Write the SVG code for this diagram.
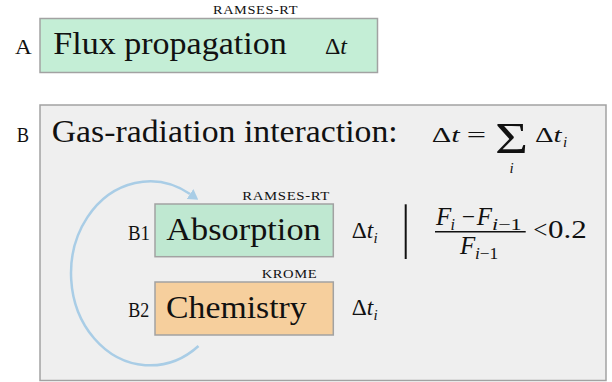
<svg xmlns="http://www.w3.org/2000/svg" width="612" height="382" viewBox="0 0 612 382" font-family="'Liberation Serif', 'DejaVu Serif', serif">
<defs>
<style>
text{font-family:'Liberation Serif','DejaVu Serif',serif;fill:#111}
.big{font-size:31px}
.lbl{font-size:20px}
.sc{font-size:12px;letter-spacing:0.5px}
.it{font-style:italic}
.box{stroke:#a2a2a2;stroke-width:1.5}
.m{font-size:24px}
.sub{font-size:15px}
</style>
<marker id="ah" viewBox="0 0 10 12" refX="0" refY="6" markerWidth="10" markerHeight="12" markerUnits="userSpaceOnUse" orient="auto">
<path d="M0,0 L10,6 L0,12 z" fill="#a9cde6"/>
</marker>
</defs>

<g id="nodeA">
<text class="sc" x="213" y="13.5" textLength="85" lengthAdjust="spacingAndGlyphs">RAMSES-RT</text>
<text class="lbl" x="15" y="54" textLength="16.7" lengthAdjust="spacingAndGlyphs">A</text>
<rect class="box" x="40" y="18.5" width="337.5" height="54" fill="#c4eed6"/>
<text class="big" x="53.3" y="54.3" textLength="233.4" lengthAdjust="spacingAndGlyphs">Flux propagation</text>
<text class="m" x="325" y="54.3" textLength="22" lengthAdjust="spacingAndGlyphs">Δ<tspan class="it">t</tspan></text>
</g>

<g id="nodeB">
<rect class="box" x="40" y="105" width="566" height="275.5" fill="#efefef"/>
<text class="lbl" x="16.7" y="141.7" textLength="12.3" lengthAdjust="spacingAndGlyphs">B</text>
<text class="big" x="51.7" y="142.3" textLength="346" lengthAdjust="spacingAndGlyphs">Gas-radiation interaction:</text>
<text x="431.7" y="142.3" font-size="22" textLength="28" lengthAdjust="spacingAndGlyphs">Δ<tspan class="it">t</tspan></text>
<text x="466.7" y="142.3" font-size="22" textLength="19.3" lengthAdjust="spacingAndGlyphs">=</text>
<text x="495" y="152.7" font-size="44" textLength="33" lengthAdjust="spacingAndGlyphs">Σ</text>
<text class="it sub" x="511.7" y="172.5" text-anchor="middle">i</text>
<text x="535" y="142.3" font-size="22" textLength="26.7" lengthAdjust="spacingAndGlyphs">Δ<tspan class="it">t</tspan></text>
<text class="it sub" x="563" y="146.5">i</text>
</g>

<g id="connectors">
<path d="M198.5 346 A79 92 0 1 1 190 194" fill="none" stroke="#a9cde6" stroke-width="2.5" marker-end="url(#ah)"/>
</g>

<g id="nodeB1">
<text class="sc" x="242.3" y="200" textLength="87.7" lengthAdjust="spacingAndGlyphs">RAMSES-RT</text>
<text class="lbl" x="128" y="240" textLength="22" lengthAdjust="spacingAndGlyphs">B1</text>
<rect class="box" x="155" y="204" width="178.3" height="52.7" fill="#bfe8d1"/>
<text class="big" x="166.3" y="240" textLength="154.4" lengthAdjust="spacingAndGlyphs">Absorption</text>
<text class="m" x="351.7" y="238" textLength="21.5" lengthAdjust="spacingAndGlyphs">Δ<tspan class="it">t</tspan></text>
<text class="it sub" x="373.5" y="242.5">i</text>
</g>

<g id="nodeB2">
<text class="sc" x="261.7" y="277.7" textLength="55.6" lengthAdjust="spacingAndGlyphs">KROME</text>
<text class="lbl" x="128.3" y="316.5" textLength="21" lengthAdjust="spacingAndGlyphs">B2</text>
<rect class="box" x="155" y="282" width="178.3" height="53" fill="#f6cf9d"/>
<text class="big" x="166" y="317.5" textLength="140.7" lengthAdjust="spacingAndGlyphs">Chemistry</text>
<text class="m" x="351.7" y="315" textLength="21.5" lengthAdjust="spacingAndGlyphs">Δ<tspan class="it">t</tspan></text>
<text class="it sub" x="373.5" y="319.5">i</text>
</g>

<g id="condition">
<line x1="405.7" y1="204.3" x2="405.7" y2="259" stroke="#111" stroke-width="2"/>
<text class="it" x="436" y="225" font-size="25">F</text>
<text class="it" x="450.5" y="229.5" font-size="16">i</text>
<text x="461.7" y="225" font-size="25" textLength="13.3" lengthAdjust="spacingAndGlyphs">−</text>
<text class="it" x="476.7" y="225" font-size="25">F</text>
<text x="492" y="229.5" font-size="16" textLength="29.7" lengthAdjust="spacingAndGlyphs"><tspan class="it">i</tspan>−1</text>
<line x1="435" y1="231.7" x2="525.7" y2="231.7" stroke="#111" stroke-width="1.6"/>
<text class="it" x="460" y="254.3" font-size="25">F</text>
<text x="475" y="258.5" font-size="16" textLength="23.3" lengthAdjust="spacingAndGlyphs"><tspan class="it">i</tspan>−1</text>
<text x="533.3" y="238.3" font-size="25">&lt;</text>
<text x="548" y="238.3" font-size="25" textLength="38.7" lengthAdjust="spacingAndGlyphs">0.2</text>
</g>
</svg>
